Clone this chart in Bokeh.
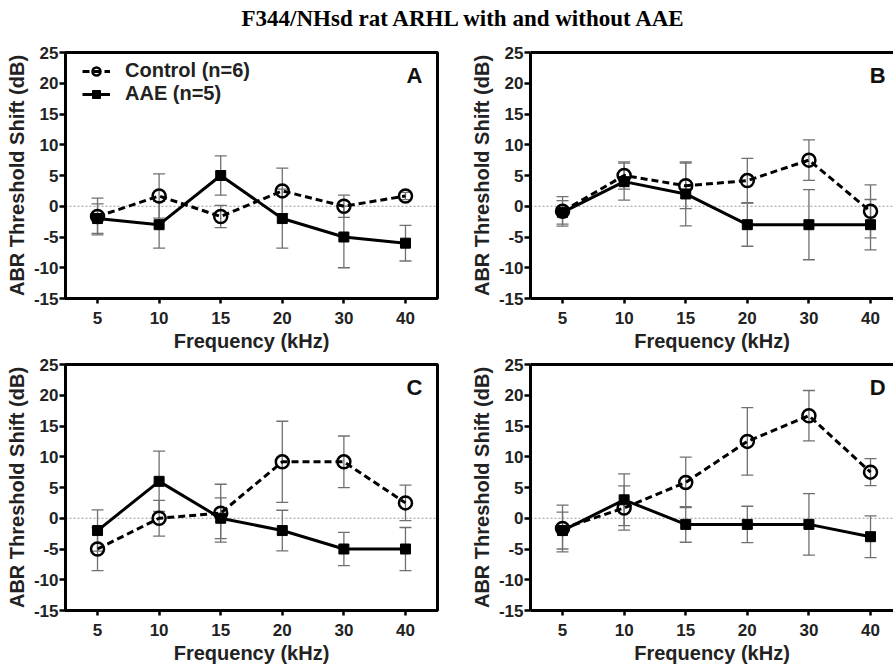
from bokeh.plotting import figure
from bokeh.models import (ColumnDataSource, Whisker, TeeHead, Span, Label, Legend,
                          LegendItem, FixedTicker, LinearAxis, Range1d)
from bokeh.layouts import column, row
from bokeh.embed import file_html
from bokeh.resources import INLINE

# ---------------- data ----------------
FREQS = ["5", "10", "15", "20", "30", "40"]
Y_TICKS = [-15, -10, -5, 0, 5, 10, 15, 20, 25]
TITLE = "F344/NHsd rat ARHL with and without AAE"
X_LABEL = "Frequency (kHz)"
Y_LABEL = "ABR Threshold Shift (dB)"
CTRL_NAME = "Control (n=6)"
AAE_NAME = "AAE (n=5)"

A_CTRL = [-1.67, 1.67, -1.67, 2.5, 0.0, 1.67]
A_CTRL_ERR = [3.0, 3.6, 1.8, 3.7, 1.8, 0.6]
A_AAE = [-2, -3, 5, -2, -5, -6]
A_AAE_ERR = [2.4, 3.8, 3.2, 4.8, 5.0, 2.9]

B_CTRL = [-0.83, 5.0, 3.33, 4.17, 7.5, -0.83]
B_CTRL_ERR = [2.4, 2.2, 3.7, 3.6, 3.3, 4.3]
B_AAE = [-1, 4, 2, -3, -3, -3]
B_AAE_ERR = [1.9, 3.0, 5.2, 3.5, 5.7, 4.1]

C_CTRL = [-5.0, 0.0, 0.83, 9.17, 9.17, 2.5]
C_CTRL_ERR = [3.5, 2.9, 4.7, 6.6, 4.2, 2.9]
C_AAE = [-2, 6, 0, -2, -5, -5]
C_AAE_ERR = [3.35, 4.9, 3.3, 3.3, 2.7, 3.5]

D_CTRL = [-1.67, 1.67, 5.83, 12.5, 16.67, 7.5]
D_CTRL_ERR = [3.8, 3.6, 4.1, 5.5, 4.1, 2.2]
D_AAE = [-2, 3, -1, -1, -1, -3]
D_AAE_ERR = [3.0, 4.2, 2.9, 2.95, 5.0, 3.4]

FONT = "Liberation Sans"
ERR_COLOR = "#707070"


def make_src(vals, errs):
    xs = list(range(len(FREQS)))
    return ColumnDataSource(dict(
        x=xs, y=vals,
        upper=[v + e for v, e in zip(vals, errs)],
        lower=[v - e for v, e in zip(vals, errs)],
    ))


def make_panel(letter, ctrl, ctrl_err, aae, aae_err, left_col, top_row, legend=False):
    if left_col:
        width, mbl, mbr, x_end = 440, 65, 3, 5.52
    else:
        width, mbl, mbr, x_end = 453, 90, 0, 5.373
    if top_row:
        height, mbt, mbb = 318, 14, 58
    else:
        height, mbt, mbb = 311, 8, 57

    p = figure(width=width, height=height, x_range=Range1d(-0.52, x_end),
               y_range=Range1d(-15, 25), toolbar_location=None,
               output_backend="svg", min_border_left=mbl, min_border_right=mbr,
               min_border_top=mbt, min_border_bottom=mbb)
    p.grid.grid_line_color = None
    p.background_fill_color = "white"
    p.border_fill_color = "white"

    xa = p.below[0]
    ya = p.left[0]
    xa.ticker = FixedTicker(ticks=list(range(len(FREQS))))
    xa.major_label_overrides = {i: f for i, f in enumerate(FREQS)}
    xa.axis_label = X_LABEL
    ya.ticker = FixedTicker(ticks=Y_TICKS)
    ya.major_label_overrides = {v: str(v) for v in Y_TICKS}
    ya.axis_label = Y_LABEL

    for ax in (xa, ya):
        ax.axis_line_width = 3
        ax.axis_line_color = "black"
        ax.major_tick_line_width = 2.5
        ax.major_tick_line_color = "black"
        ax.major_tick_in = 0
        ax.minor_tick_line_color = None
        ax.major_label_text_font = FONT
        ax.major_label_text_font_style = "bold"
        ax.major_label_text_font_size = "17px"
        ax.major_label_text_color = "#222222"
        ax.axis_label_text_font = FONT
        ax.axis_label_text_font_style = "bold"
        ax.axis_label_text_font_size = "20px"
        ax.axis_label_text_color = "#222222"
    xa.major_tick_out = 5
    xa.major_label_standoff = 8
    xa.axis_label_standoff = 3
    ya.major_tick_out = 6
    ya.major_label_standoff = 1
    ya.axis_label_standoff = 3

    if left_col:
        p.outline_line_color = "black"
        p.outline_line_width = 3
        p.outline_line_alpha = 1
    else:
        p.outline_line_color = None
        top = LinearAxis(ticker=FixedTicker(ticks=[]), major_tick_out=0,
                         major_tick_in=0, minor_tick_out=0, minor_tick_in=0,
                         major_label_text_font_size="0px", axis_line_width=3,
                         axis_line_color="black")
        p.add_layout(top, "above")

    # zero line
    p.add_layout(Span(location=0, dimension="width", line_color="#9a9a9a",
                      line_width=1.2, line_dash="2 2", level="underlay"))

    cs = make_src(ctrl, ctrl_err)
    asrc = make_src(aae, aae_err)
    for src in (cs, asrc):
        w = Whisker(base="x", upper="upper", lower="lower", source=src,
                    dimension="height", line_color=ERR_COLOR, line_width=1.3,
                    level="underlay",
                    upper_head=TeeHead(size=12, line_color=ERR_COLOR, line_width=1.3),
                    lower_head=TeeHead(size=12, line_color=ERR_COLOR, line_width=1.3))
        p.add_layout(w)

    cl = p.line("x", "y", source=cs, line_color="black", line_width=3, line_dash="7 4")
    al = p.line("x", "y", source=asrc, line_color="black", line_width=3)
    asq = p.scatter("x", "y", source=asrc, marker="square", size=10,
                    fill_color="black", line_color="black", line_width=1)
    cc = p.scatter("x", "y", source=cs, marker="circle", size=13,
                   fill_color="white", fill_alpha=0, line_color="black", line_width=2.5)

    p.add_layout(Label(x=5.52, y=25, x_offset=-15 if left_col else -17, y_offset=-10,
                       text=letter, text_align="right", text_baseline="top",
                       text_font=FONT, text_font_style="bold", text_font_size="22px",
                       text_color="#111111"))

    if legend:
        lg = Legend(items=[LegendItem(label=CTRL_NAME, renderers=[cl, cc]),
                           LegendItem(label=AAE_NAME, renderers=[al, asq])],
                    location=(17, 193), border_line_color=None,
                    background_fill_alpha=0, padding=0, margin=0, spacing=0,
                    glyph_width=28, glyph_height=20, label_height=22,
                    label_standoff=15, label_text_font=FONT,
                    label_text_font_style="bold", label_text_font_size="20px",
                    label_text_color="#222222")
        p.add_layout(lg)
    return p


pA = make_panel("A", A_CTRL, A_CTRL_ERR, A_AAE, A_AAE_ERR, True, True, legend=True)
pB = make_panel("B", B_CTRL, B_CTRL_ERR, B_AAE, B_AAE_ERR, False, True)
pC = make_panel("C", C_CTRL, C_CTRL_ERR, C_AAE, C_AAE_ERR, True, False)
pD = make_panel("D", D_CTRL, D_CTRL_ERR, D_AAE, D_AAE_ERR, False, False)

tp = figure(width=893, height=38, x_range=Range1d(0, 893), y_range=Range1d(0, 38),
            toolbar_location=None, output_backend="svg", min_border=0,
            x_axis_location=None, y_axis_location=None)
tp.outline_line_color = None
tp.grid.grid_line_color = None
tp.add_layout(Label(x=464, y=20, text=TITLE, text_align="center",
                    text_baseline="middle", text_font="Liberation Serif",
                    text_font_style="bold", text_font_size="23px", text_color="black"))

layout = column(tp, row(pA, pB), row(pC, pD))

with open("out.html", "w") as f:
    f.write(file_html(layout, INLINE, title="ARHL"))
